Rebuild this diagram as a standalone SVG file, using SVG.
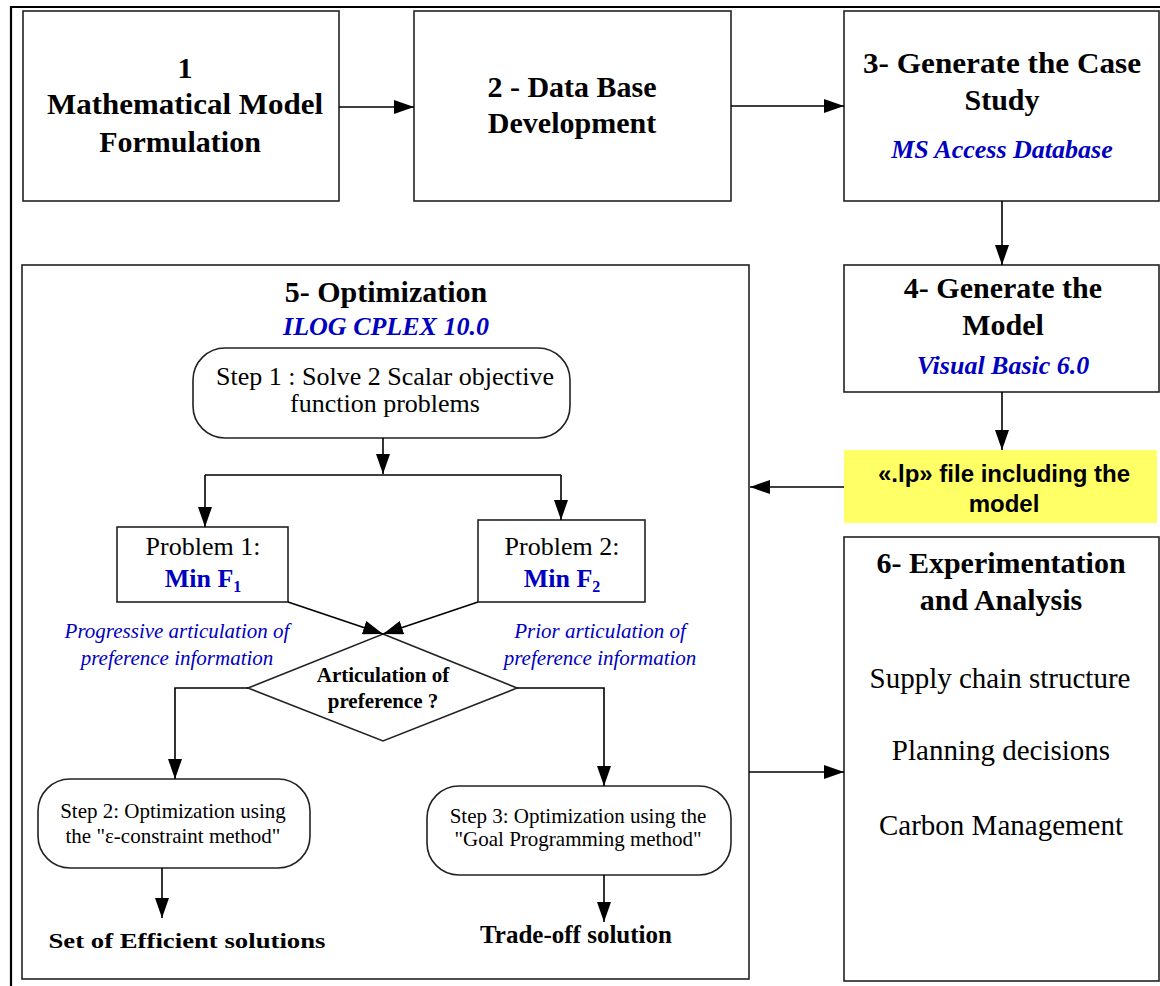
<svg xmlns="http://www.w3.org/2000/svg" width="1160" height="986" viewBox="0 0 1160 986">
<defs>
<marker id="ah" markerUnits="userSpaceOnUse" markerWidth="20" markerHeight="14" refX="20" refY="7" orient="auto">
<path d="M0,0 L20,7 L0,14 z" fill="#000"/>
</marker>
<style>
.box{fill:#fff;stroke:#222;stroke-width:1.6}
.c{fill:none;stroke:#000;stroke-width:1.6}
.a{fill:none;stroke:#000;stroke-width:1.6;marker-end:url(#ah)}
text{font-family:"Liberation Serif","Times New Roman",serif;text-anchor:middle;fill:#000}
.h{font-size:30px;font-weight:bold}
.bl{fill:#0000C0;font-style:italic;font-weight:bold;font-size:26px}
.bi{fill:#0000C0;font-style:italic;font-size:21px}
.r{font-size:26px}
.s{font-size:21px}
.e{font-size:29px}
.sans{font-family:"Liberation Sans",Arial,sans-serif;font-weight:bold;font-size:24px}
</style>
</defs>
<rect x="0" y="0" width="1160" height="986" fill="#fff"/>
<path d="M11,986 V7 H1160" fill="none" stroke="#000" stroke-width="2.2"/>

<g id="n1">
<rect class="box" x="23" y="11" width="316" height="190"/>
<text class="h" x="185" y="78">1</text>
<text class="h" x="185" y="114" textLength="276" lengthAdjust="spacingAndGlyphs">Mathematical Model</text>
<text class="h" x="180" y="152">Formulation</text>
</g>

<g id="n2">
<rect class="box" x="414" y="11" width="317" height="190"/>
<text class="h" x="572" y="97">2 - Data Base</text>
<text class="h" x="572" y="133">Development</text>
</g>

<g id="n3">
<rect class="box" x="844" y="11" width="315" height="190"/>
<text class="h" x="1002" y="73" textLength="278" lengthAdjust="spacingAndGlyphs">3- Generate the Case</text>
<text class="h" x="1002" y="110">Study</text>
<text class="bl" x="1002" y="158">MS Access Database</text>
</g>

<g id="n4">
<rect class="box" x="844" y="265" width="315" height="127"/>
<text class="h" x="1003" y="298">4- Generate the</text>
<text class="h" x="1003" y="335">Model</text>
<text class="bl" x="1003" y="374">Visual Basic 6.0</text>
</g>

<g id="nlp">
<rect x="844" y="450" width="313" height="73" fill="#FFFF66"/>
<text class="sans" x="1004" y="482">«.lp» file including the</text>
<text class="sans" x="1004" y="512">model</text>
</g>

<g id="n5">
<rect class="box" x="22" y="265" width="727" height="714"/>
<text class="h" x="386" y="302">5- Optimization</text>
<text class="bl" x="386" y="335">ILOG CPLEX 10.0</text>
</g>

<g id="step1">
<rect class="box" x="193" y="348" width="377" height="90" rx="32" ry="32"/>
<text class="r" x="385" y="385">Step 1 : Solve 2 Scalar objective</text>
<text class="r" x="385" y="412">function problems</text>
</g>

<g id="p1">
<rect class="box" x="117" y="527" width="171" height="75"/>
<text class="r" x="203" y="555">Problem 1:</text>
<text x="203" y="587" style="fill:#0000C0;font-size:26px;font-weight:bold">Min F<tspan font-size="16" dy="5">1</tspan></text>
</g>

<g id="p2">
<rect class="box" x="478" y="520" width="167" height="82"/>
<text class="r" x="562" y="555">Problem 2:</text>
<text x="562" y="587" style="fill:#0000C0;font-size:26px;font-weight:bold">Min F<tspan font-size="16" dy="5">2</tspan></text>
</g>

<g id="lblL">
<text class="bi" x="177" y="638">Progressive articulation of</text>
<text class="bi" x="177" y="665">preference information</text>
</g>

<g id="lblR">
<text class="bi" x="600" y="638">Prior articulation of</text>
<text class="bi" x="600" y="665">preference information</text>
</g>

<g id="dec">
<polygon class="box" points="383,634 517,688 383,741 248,688"/>
<text x="383" y="682" style="font-size:21px;font-weight:bold">Articulation of</text>
<text x="383" y="708" style="font-size:21px;font-weight:bold">preference ?</text>
</g>

<g id="step2">
<rect class="box" x="38" y="779" width="272" height="89" rx="32" ry="32"/>
<text class="s" x="173" y="818">Step 2: Optimization using</text>
<text class="s" x="173" y="843">the "ε-constraint method"</text>
</g>

<g id="step3">
<rect class="box" x="427" y="786" width="304" height="89" rx="32" ry="32"/>
<text class="s" x="578" y="823">Step 3: Optimization using the</text>
<text class="s" x="578" y="846">"Goal Programming method"</text>
</g>

<g id="res1">
<text x="187" y="948" style="font-size:22px;font-weight:bold" textLength="277" lengthAdjust="spacingAndGlyphs">Set of Efficient solutions</text>
</g>

<g id="res2">
<text x="576" y="943" style="font-size:25px;font-weight:bold">Trade-off solution</text>
</g>

<g id="n6">
<rect class="box" x="844" y="537" width="315" height="444"/>
<text class="h" x="1001" y="573">6- Experimentation</text>
<text class="h" x="1001" y="610">and Analysis</text>
<text class="e" x="1000" y="688">Supply chain structure</text>
<text class="e" x="1001" y="760">Planning decisions</text>
<text class="e" x="1001" y="835">Carbon Management</text>
</g>

<g id="connectors">
<path class="a" d="M339,107 H414"/>
<path class="a" d="M731,106 H844"/>
<path class="a" d="M1002,201 V265"/>
<path class="a" d="M1002,392 V450"/>
<path class="a" d="M844,487 H750"/>
<path class="a" d="M749,772 H844"/>
<path class="a" d="M383,438 V474"/>
<path class="c" d="M205,475 H561"/>
<path class="a" d="M205,475 V527"/>
<path class="a" d="M561,475 V520"/>
<path class="a" d="M288,602 L383,634"/>
<path class="a" d="M478,602 L383,634"/>
<path class="a" d="M248,688 H175 V779"/>
<path class="a" d="M517,688 H604 V786"/>
<path class="a" d="M162,868 V918"/>
<path class="a" d="M604,875 V922"/>
</g>
</svg>
